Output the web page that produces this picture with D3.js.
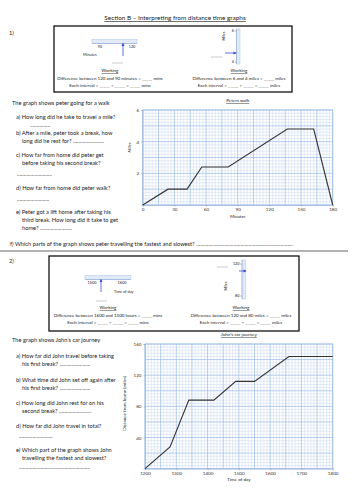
<!DOCTYPE html>
<html>
<head>
<meta charset="utf-8">
<script src="https://cdn.jsdelivr.net/npm/d3@7"></script>
<style>
  html, body { margin: 0; padding: 0; background: #fff; }
  svg { display: block; font-family: Lato, "Open Sans", sans-serif; }
  .txt { fill: #222; }
  .tick-label { fill: #333; }
</style>
</head>
<body>
<svg id="sheet" width="354" height="500"></svg>
<script>
//----------------
// Data
//----------------

// Peter's walk (minutes, miles)
const peterMinutes = [0, 24, 42, 56, 81, 137, 162, 180];
const peterMiles = [0, 1, 1, 2.4, 2.4, 4.8, 4.8, 0];
const peterXTicks = [0, 30, 60, 90, 120, 150, 180];
const peterYTicks = [2, 4, 6];

// John's car journey (hour of day, miles)
const johnHours = [12, 12.8, 13.4, 14.2, 14.9, 15.5, 16.6, 18];
const johnMiles = [0, 28, 88, 88, 112, 112, 144, 144];
const johnXTicks = [12, 13, 14, 15, 16, 17, 18];
const johnYTicks = [40, 80, 120, 160];

// questions, one entry per line: [indent, y, text]
const peterQuestions = [
  [12, 105, "The graph shows peter going for a walk"],
  [16, 119, "a) How long did he take to travel a mile?"],
  [30, 127, "..............."],
  [16, 135, "b) After a mile, peter took a break, how"],
  [22, 143, "long did he rest for? ......................."],
  [16, 157, "c) How far from home did peter get"],
  [22, 165, "before taking his second break?"],
  [17, 176, ".........................."],
  [16, 190, "d) How far from home did peter walk?"],
  [17, 201, "........................"],
  [16, 214, "e) Peter got a lift home after taking his"],
  [22, 222, "third break. How long did it take to get"],
  [22, 230, "home? ........................"],
  [10, 246, "f) Which parts of the graph shows peter travelling the fastest and slowest? ........................................................................"]
];
const johnQuestions = [
  [12, 342, "The graph shows John\u2019s car journey"],
  [16, 358, "a) How far did John travel before taking"],
  [22, 366, "his first break? ......................."],
  [16, 382, "b) What time did John set off again after"],
  [22, 390, "his first break? ......................."],
  [16, 405, "c) How long did John rest for on his"],
  [22, 413, "second break? ........................"],
  [16, 428, "d) How far did John travel in total?"],
  [19, 438, "........................."],
  [16, 452, "e) Which part of the graph shows John"],
  [22, 460, "travelling the fastest and slowest?"],
  [19, 469, "....................................................."]
];

//----------------
// Constants
//----------------

const gridMinor = "#cddcf3";
const gridMajor = "#9fbde6";
const arrowBlue = "#3a4fd0";
const qSize = 5.7;
const boxSize = 4.5;

//----------------
// Utility functions
//----------------

function addText(g, x, y, str, size, anchor = "start") {
  return g.append("text")
    .attr("class", "txt")
    .attr("x", x)
    .attr("y", y)
    .attr("font-size", size)
    .attr("text-anchor", anchor)
    .text(str);
}

function drawGrid(g, x, y, xMinor, xMajor, yMinor, yMajor) {
  var [x0, x1] = x.domain();
  var [y0, y1] = y.domain();
  var eps = 1e-6;

  var vx = d3.range(x0, x1 + eps, xMinor);
  var hy = d3.range(y0, y1 + eps, yMinor);
  var isMajor = (v, base, step) => Math.abs(((v - base) / step) - Math.round((v - base) / step)) < 1e-4;

  g.append("g").selectAll("line")
    .data(vx.filter(v => !isMajor(v, x0, xMajor)))
    .enter().append("line")
      .attr("x1", d => x(d)).attr("x2", d => x(d))
      .attr("y1", y(y0)).attr("y2", y(y1))
      .attr("stroke", gridMinor).attr("stroke-width", 0.55);

  g.append("g").selectAll("line")
    .data(hy.filter(v => !isMajor(v, y0, yMajor)))
    .enter().append("line")
      .attr("y1", d => y(d)).attr("y2", d => y(d))
      .attr("x1", x(x0)).attr("x2", x(x1))
      .attr("stroke", gridMinor).attr("stroke-width", 0.55);

  g.append("g").selectAll("line")
    .data(vx.filter(v => isMajor(v, x0, xMajor)))
    .enter().append("line")
      .attr("x1", d => x(d)).attr("x2", d => x(d))
      .attr("y1", y(y0)).attr("y2", y(y1))
      .attr("stroke", gridMajor).attr("stroke-width", 0.75);

  g.append("g").selectAll("line")
    .data(hy.filter(v => isMajor(v, y0, yMajor)))
    .enter().append("line")
      .attr("y1", d => y(d)).attr("y2", d => y(d))
      .attr("x1", x(x0)).attr("x2", x(x1))
      .attr("stroke", gridMajor).attr("stroke-width", 0.75);
}

function drawLine(g, xs, ys, x, y) {
  var pts = xs.map((d, i) => [d, ys[i]]);
  g.append("path")
    .datum(pts)
    .attr("fill", "none")
    .attr("stroke", "#333")
    .attr("stroke-width", 1.1)
    .attr("stroke-linejoin", "miter")
    .attr("d", d3.line().x(d => x(d[0])).y(d => y(d[1])));
}

function drawAxes(g, x, y, xTicks, yTicks, xFormat) {
  var xAxis = g.append("g")
    .attr("transform", "translate(0," + y.range()[0] + ")")
    .call(d3.axisBottom(x).tickValues(xTicks).tickSize(1.5).tickPadding(1.5).tickFormat(xFormat));
  var yAxis = g.append("g")
    .attr("transform", "translate(" + x.range()[0] + ",0)")
    .call(d3.axisLeft(y).tickValues(yTicks).tickSize(1.5).tickPadding(2).tickFormat(d => String(d)));

  [xAxis, yAxis].forEach(a => {
    a.attr("font-family", null).attr("font-size", 4.6);
    a.select(".domain").attr("stroke", "#9bb5d8").attr("stroke-width", 0.6);
    a.selectAll(".tick line").attr("stroke", "#888").attr("stroke-width", 0.5);
    a.selectAll("text").attr("class", "tick-label");
  });
}

//----------------
// Draw functions
//----------------

function drawHeader(svg) {
  addText(svg, 175, 20, "Section B \u2013 Interpreting from distance time graphs", 6.4, "middle")
    .style("text-decoration", "underline");
}

function drawHStrip(g, x, yPos, extent, labels, fmt) {
  // small horizontal piece of graph paper
  var [x0, x1] = extent;
  g.append("rect")
    .attr("x", x0).attr("y", yPos - 2.5)
    .attr("width", x1 - x0).attr("height", 4)
    .attr("fill", "#eef3fb").attr("stroke", gridMajor).attr("stroke-width", 0.4);
  g.append("g").selectAll("line")
    .data(d3.range(x0, x1, 1.6))
    .enter().append("line")
      .attr("x1", d => d).attr("x2", d => d)
      .attr("y1", yPos - 2.5).attr("y2", yPos + 1.5)
      .attr("stroke", "#b3caec").attr("stroke-width", 0.35);
  g.append("line")
    .attr("x1", x0).attr("x2", x1).attr("y1", yPos + 1.5).attr("y2", yPos + 1.5)
    .attr("stroke", "#7f9fd0").attr("stroke-width", 0.5);
  labels.forEach(v => addText(g, x(v), yPos + 6, fmt(v), 3.8, "middle"));
}

function drawVStrip(g, y, xPos, extent, labels) {
  var [y0, y1] = extent;
  g.append("rect")
    .attr("x", xPos).attr("y", y0)
    .attr("width", 3.5).attr("height", y1 - y0)
    .attr("fill", "#eef3fb").attr("stroke", gridMajor).attr("stroke-width", 0.4);
  g.append("g").selectAll("line")
    .data(d3.range(y0, y1, 1.6))
    .enter().append("line")
      .attr("y1", d => d).attr("y2", d => d)
      .attr("x1", xPos).attr("x2", xPos + 3.5)
      .attr("stroke", "#b3caec").attr("stroke-width", 0.35);
  g.append("line")
    .attr("x1", xPos).attr("x2", xPos).attr("y1", y0).attr("y2", y1)
    .attr("stroke", "#7f9fd0").attr("stroke-width", 0.5);
  labels.forEach(v => {
    addText(g, xPos - 2.5, y(v) + 1.4, String(v), 3.8, "end");
    g.append("line").attr("x1", xPos - 2).attr("x2", xPos).attr("y1", y(v)).attr("y2", y(v))
      .attr("stroke", "#666").attr("stroke-width", 0.4);
  });
}

function drawArrow(g, x1, y1, x2, y2) {
  g.append("line")
    .attr("x1", x1).attr("y1", y1).attr("x2", x2).attr("y2", y2)
    .attr("stroke", arrowBlue).attr("stroke-width", 0.8)
    .attr("marker-end", "url(#arrowhead)");
}

function drawBox(svg, b) {
  var g = svg.append("g");
  g.append("rect")
    .attr("x", b.x).attr("y", b.y).attr("width", b.w).attr("height", b.h)
    .attr("fill", "#fff").attr("stroke", "#111").attr("stroke-width", 1.3);

  // left: horizontal strip
  var hx = d3.scaleLinear().domain(b.hDomain).range(b.hRange);
  drawHStrip(g, hx, b.hY, b.hExtent, b.hDomain, b.hFmt);
  drawArrow(g, b.hArrow[0], b.hArrow[1], b.hArrow[2], b.hArrow[3]);
  addText(g, b.hUnit[0], b.hUnit[1], b.hUnit[2], 3.8);
  g.append("line").attr("x1", b.hBlank[0]).attr("x2", b.hBlank[0] + 11)
    .attr("y1", b.hBlank[1]).attr("y2", b.hBlank[1]).attr("stroke", "#999").attr("stroke-width", 0.5);

  // right: vertical strip
  var vy = d3.scaleLinear().domain(b.vDomain).range(b.vRange);
  drawVStrip(g, vy, b.vX, b.vExtent, b.vDomain);
  drawArrow(g, b.vArrow[0], b.vArrow[1], b.vArrow[2], b.vArrow[3]);
  addText(g, 0, 0, "Miles", 3.8, "middle")
    .attr("transform", "translate(" + b.vUnit[0] + "," + b.vUnit[1] + ") rotate(-90)");
  g.append("line").attr("x1", b.vBlank[0]).attr("x2", b.vBlank[0] + 11)
    .attr("y1", b.vBlank[1]).attr("y2", b.vBlank[1]).attr("stroke", "#999").attr("stroke-width", 0.5);

  // working text
  b.working.forEach(w => {
    addText(g, w.cx, w.y, "Working", boxSize, "middle").style("text-decoration", "underline");
    addText(g, w.cx, w.y + 7.5, w.diff, boxSize, "middle");
    addText(g, w.cx, w.y + 14.5, w.each, boxSize, "middle");
  });
}

function drawChart(svg, opts) {
  var g = svg.append("g");
  var x = d3.scaleLinear().domain(opts.xDomain).range(opts.xRange);
  var y = d3.scaleLinear().domain(opts.yDomain).range(opts.yRange);

  drawGrid(g, x, y, opts.xMinor, opts.xMajor, opts.yMinor, opts.yMajor);
  g.append("rect")
    .attr("x", opts.xRange[0]).attr("y", opts.yRange[1])
    .attr("width", opts.xRange[1] - opts.xRange[0]).attr("height", opts.yRange[0] - opts.yRange[1])
    .attr("fill", "none").attr("stroke", gridMajor).attr("stroke-width", 0.75);
  drawAxes(g, x, y, opts.xTicks, opts.yTicks, opts.xFormat);
  drawLine(g, opts.xs, opts.ys, x, y);

  var cx = (opts.xRange[0] + opts.xRange[1]) / 2;
  addText(g, cx, opts.yRange[1] - 8, opts.title, 4.6, "middle").style("text-decoration", "underline");
  addText(g, cx, opts.yRange[0] + 12.5, opts.xLabel, 4.6, "middle").style("font-style", opts.italic ? "italic" : null);
  addText(g, 0, 0, opts.yLabel, 4.6, "middle")
    .style("font-style", opts.italic ? "italic" : null)
    .attr("transform", "translate(" + opts.yLabelX + "," + ((opts.yRange[0] + opts.yRange[1]) / 2 - opts.yLabelShift) + ") rotate(-90)");
}

function drawQuestions(svg, lines) {
  lines.forEach(l => addText(svg, l[0], l[1], l[2], qSize));
}

//----------------
// Main
//----------------

function main() {
  var svg = d3.select("#sheet");

  svg.append("defs").append("marker")
    .attr("id", "arrowhead")
    .attr("viewBox", "0 0 10 10")
    .attr("refX", 8).attr("refY", 5)
    .attr("markerWidth", 4).attr("markerHeight", 4)
    .attr("orient", "auto-start-reverse")
    .append("path").attr("d", "M0,0L10,5L0,10z").attr("fill", arrowBlue);

  drawHeader(svg);
  addText(svg, 9, 35, "1)", qSize);

  drawBox(svg, {
    x: 54, y: 26, w: 238, h: 66,
    hDomain: [90, 120], hRange: [100, 132], hExtent: [92, 137], hY: 42, hFmt: d => String(d),
    hArrow: [123, 56, 123, 43.5], hUnit: [83, 56, "Minutes"], hBlank: [112, 63],
    vDomain: [4, 6], vRange: [62, 31], vExtent: [29, 64], vX: 236.5, vArrow: [225, 53, 236, 53], vUnit: [225, 36], vBlank: [211, 57],
    working: [
      {cx: 110, y: 72, diff: "Difference between 120 and 90 minutes = _____ mins", each: "Each interval = _____ \u00f7 _____ = _____ mins"},
      {cx: 239, y: 72, diff: "Difference between 6 and 4 miles = _____ miles", each: "Each interval = _____ \u00f7 _____ = _____ miles"}
    ]
  });

  drawQuestions(svg, peterQuestions);

  drawChart(svg, {
    xDomain: [0, 180], xRange: [142.7, 332.7],
    yDomain: [0, 6], yRange: [205, 110],
    xMinor: 3, xMajor: 15, yMinor: 0.2, yMajor: 1,
    xTicks: peterXTicks, yTicks: peterYTicks, xFormat: d => String(d),
    xs: peterMinutes, ys: peterMiles,
    title: "Peters walk", xLabel: "Minutes", yLabel: "Miles", yLabelX: 131, yLabelShift: 10, italic: true
  });

  // separator
  svg.append("line").attr("x1", 0).attr("x2", 348).attr("y1", 251).attr("y2", 251)
    .attr("stroke", "#999").attr("stroke-width", 1.3);

  addText(svg, 9, 263, "2)", qSize);

  drawBox(svg, {
    x: 49, y: 256, w: 250, h: 75,
    hDomain: [15, 16], hRange: [92, 122], hExtent: [85, 131], hY: 278, hFmt: d => String(d * 100),
    hArrow: [101, 292, 101, 279.5], hUnit: [114, 292.5, "Time of day"], hBlank: [96, 301],
    vDomain: [80, 120], vRange: [296, 264], vExtent: [260, 299], vX: 242, vArrow: [239, 271, 246, 271], vUnit: [227, 286], vBlank: [217, 267],
    working: [
      {cx: 108, y: 309, diff: "Difference between 1600 and 1500 hours = _____ mins", each: "Each interval = _____ \u00f7 _____ = _____ mins"},
      {cx: 241, y: 309, diff: "Difference between 120 and 80 miles = _____ miles", each: "Each interval = _____ \u00f7 _____ = _____ miles"}
    ]
  });

  drawQuestions(svg, johnQuestions);

  drawChart(svg, {
    xDomain: [12, 18], xRange: [145, 332.7],
    yDomain: [0, 160], yRange: [468.7, 344],
    xMinor: 0.1, xMajor: 0.5, yMinor: 4, yMajor: 20,
    xTicks: johnXTicks, yTicks: johnYTicks, xFormat: d => String(d * 100),
    xs: johnHours, ys: johnMiles,
    title: "John\u2019s car journey", xLabel: "Time of day", yLabel: "Distance from home (miles)", yLabelX: 126, yLabelShift: 3, italic: false
  });
}

main();
</script>
</body>
</html>
